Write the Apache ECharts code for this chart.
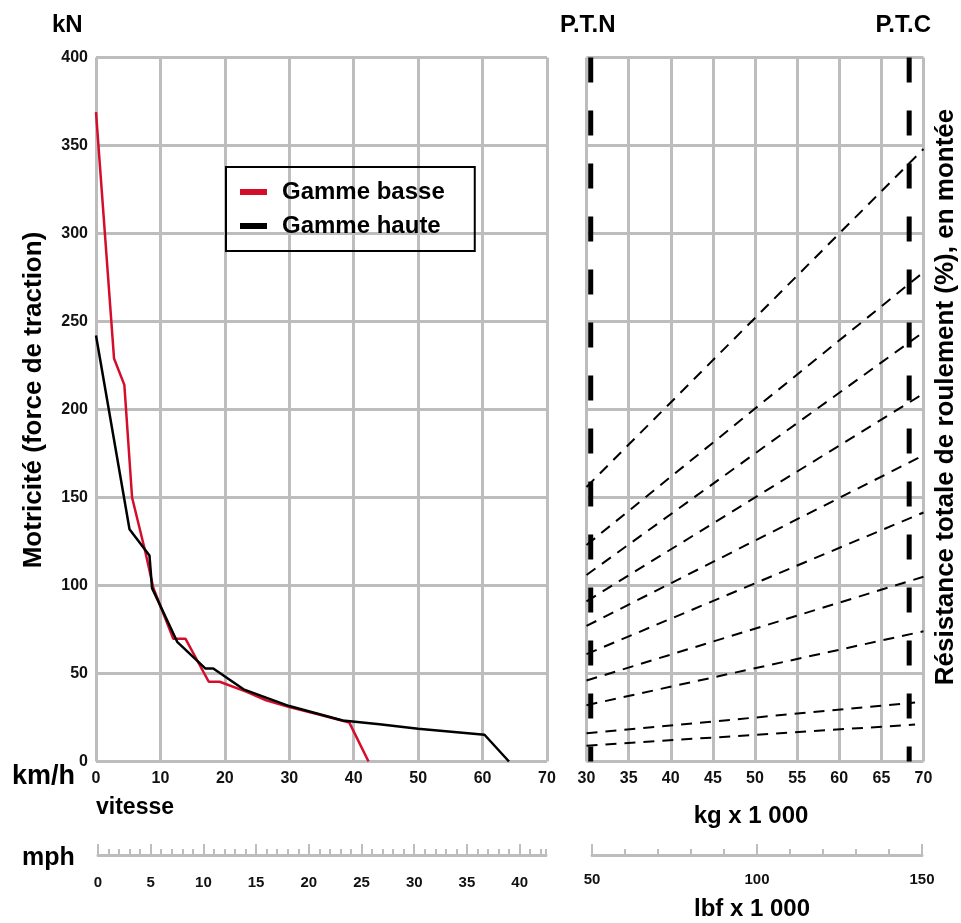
<!DOCTYPE html>
<html>
<head>
<meta charset="utf-8">
<title>Motricité</title>
<script src="https://cdn.jsdelivr.net/npm/echarts@6/dist/echarts.min.js"></script>
<style>
html, body { margin: 0; padding: 0; background: #fff; }
#chart { width: 961px; height: 923px; }
</style>
</head>
<body>
<div id="chart"></div>
<script>
// motricité : [vitesse km/h, force kN]
const gammeBasse = [[0, 369], [2.8, 229], [4.4, 214], [5.6, 150], [7.6, 120], [8.9, 98.6], [12, 69.7], [13.9, 69.7], [17.5, 45.3], [19.2, 45.3], [23.3, 39.7], [26.4, 34.8], [30, 31], [34.6, 26.7], [39.3, 22.2], [42.3, 0]];
const gammeHaute = [[0, 242], [5.2, 132], [8.3, 117], [8.7, 98.5], [12.6, 68], [17, 52.8], [18.2, 52.8], [22.9, 41], [30, 31.5], [38.3, 23.3], [44, 21.2], [50, 18.6], [60.3, 15.2], [64.1, 0]];

// résistance totale : [kg x 1000, kN] début et fin de chaque droite
const resistance = [
  [[30, 156], [70, 348]],
  [[30, 123], [70, 278]],
  [[30, 106], [70, 244]],
  [[30, 91], [70, 209]],
  [[30, 77], [70, 174]],
  [[30, 61], [70, 141.5]],
  [[30, 46], [70, 105]],
  [[30, 32], [70, 74]],
  [[30, 16], [69, 33.5]],
  [[30, 9], [69, 21]]
];
const ptnKg = 30.5;
const ptcKg = 68.3;

const mphTicks = [0, 5, 10, 15, 20, 25, 30, 35, 40];

const FONT = '"Liberation Sans", Arial, sans-serif';
const GRIS = '#bdbdbd';
const ROUGE = '#d40e2a';

const chart = echarts.init(document.getElementById('chart'));

const labelStyle = { color: '#111', fontFamily: FONT, fontWeight: 'bold', fontSize: 16 };
const split = { show: true, lineStyle: { color: GRIS, width: 3 } };

function txt(text, x, y, size, align, rot) {
  return {
    type: 'text', x: x, y: y, rotation: rot || 0,
    style: { text: text, fill: '#000', fontFamily: FONT, fontWeight: 'bold', fontSize: size, align: align || 'left', verticalAlign: 'middle' }
  };
}

const series = [
  { name: 'Gamme basse', type: 'line', xAxisIndex: 0, yAxisIndex: 0, data: gammeBasse, symbol: 'none', color: ROUGE, lineStyle: { color: ROUGE, width: 2.5 }, z: 3 },
  { name: 'Gamme haute', type: 'line', xAxisIndex: 0, yAxisIndex: 0, data: gammeHaute, symbol: 'none', color: '#000', lineStyle: { color: '#000', width: 2.5 }, z: 4 }
];
resistance.forEach(function (d, i) {
  series.push({ name: 'r' + i, type: 'line', xAxisIndex: 1, yAxisIndex: 1, data: d, symbol: 'none', silent: true,
    lineStyle: { color: '#000', width: 2, type: [11, 8] }, z: 3 });
});
[ptnKg, ptcKg].forEach(function (kg, i) {
  series.push({ name: 'p' + i, type: 'line', xAxisIndex: 1, yAxisIndex: 1, data: [[kg, 400], [kg, 0]], symbol: 'none', silent: true,
    lineStyle: { color: '#000', width: 5, type: [25, 28], cap: 'butt' }, z: 2 });
});

const option = {
  animation: false,
  backgroundColor: '#fff',
  grid: [
    { left: 96, top: 57.5, width: 451, height: 704, outerBoundsMode: 'none' },
    { left: 586.5, top: 57.5, width: 337, height: 704, outerBoundsMode: 'none' },
    { left: 98, top: 854, width: 448, height: 1, outerBoundsMode: 'none' },
    { left: 592, top: 854, width: 330, height: 1, outerBoundsMode: 'none' }
  ],
  legend: {
    data: ['Gamme basse', 'Gamme haute'],
    orient: 'vertical', left: 226, top: 167,
    padding: [12, 30, 12, 14], itemGap: 8,
    borderColor: '#000', borderWidth: 2,
    icon: 'rect', itemWidth: 27, itemHeight: 6,
    textStyle: { color: '#000', fontFamily: FONT, fontWeight: 'bold', fontSize: 24, lineHeight: 26, padding: [0, 0, 0, 10] }
  },
  xAxis: [
    { type: 'value', gridIndex: 0, min: 0, max: 70, interval: 10, axisLine: { show: false }, axisTick: { show: false },
      splitLine: split, axisLabel: Object.assign({ margin: 9 }, labelStyle) },
    { type: 'value', gridIndex: 1, min: 30, max: 70, interval: 5, axisLine: { show: false }, axisTick: { show: false },
      splitLine: split, axisLabel: Object.assign({ margin: 9 }, labelStyle) },
    { type: 'value', gridIndex: 2, position: 'bottom', min: 0, max: 42.5, interval: 1,
      axisLine: { show: true, lineStyle: { color: GRIS, width: 3 } },
      axisTick: { show: true, inside: true, length: 6, lineStyle: { color: GRIS, width: 2 } },
      axisLabel: { show: false }, splitLine: { show: false } },
    { type: 'value', gridIndex: 2, position: 'bottom', offset: 0, min: 0, max: 42.5, interval: 5,
      axisLine: { show: false },
      axisTick: { show: true, inside: true, length: 11, customValues: mphTicks, lineStyle: { color: GRIS, width: 2 } },
      axisLabel: Object.assign({ margin: 20, customValues: mphTicks }, labelStyle, { fontSize: 15 }), splitLine: { show: false } },
    { type: 'value', gridIndex: 3, position: 'bottom', min: 50, max: 150, interval: 50,
      axisLine: { show: true, lineStyle: { color: GRIS, width: 3 } },
      axisTick: { show: true, inside: true, length: 11, lineStyle: { color: GRIS, width: 2 } },
      minorTick: { show: true, splitNumber: 5, length: 6, lineStyle: { color: GRIS, width: 2 } },
      axisLabel: Object.assign({ margin: 17 }, labelStyle, { fontSize: 15 }), splitLine: { show: false } }
  ],
  yAxis: [
    { type: 'value', gridIndex: 0, min: 0, max: 400, interval: 50, axisLine: { show: false }, axisTick: { show: false },
      splitLine: split, axisLabel: Object.assign({ margin: 8 }, labelStyle) },
    { type: 'value', gridIndex: 1, min: 0, max: 400, interval: 50, axisLine: { show: false }, axisTick: { show: false },
      splitLine: split, axisLabel: { show: false } },
    { type: 'value', gridIndex: 2, show: false },
    { type: 'value', gridIndex: 3, show: false }
  ],
  graphic: [
    txt('kN', 52, 25, 24),
    txt('P.T.N', 560, 25, 24),
    txt('P.T.C', 931, 25, 24, 'right'),
    txt('km/h', 12, 777, 27),
    txt('vitesse', 96, 808, 23),
    txt('kg x 1 000', 751, 816, 24, 'center'),
    txt('mph', 22, 858, 25),
    txt('lbf x 1 000', 752, 909, 24, 'center'),
    txt('Motricité (force de traction)', 34, 400, 26, 'center', Math.PI / 2),
    txt('Résistance totale de roulement (%), en montée', 946, 397, 26, 'center', Math.PI / 2)
  ],
  series: series
};

chart.setOption(option);
</script>
</body>
</html>
